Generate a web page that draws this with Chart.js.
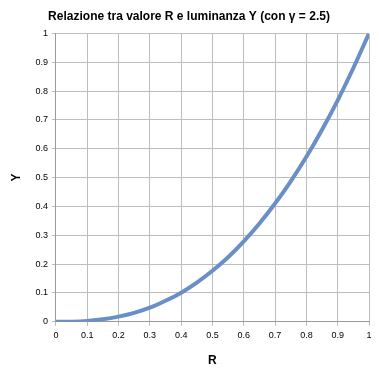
<!DOCTYPE html>
<html><head><meta charset="utf-8">
<script src="https://cdn.jsdelivr.net/npm/chart.js@4/dist/chart.umd.min.js"></script>
<style>html,body{margin:0;padding:0;background:#fff}#wrap{width:379px;height:372px}</style>
</head><body><div id="wrap"><canvas id="c" width="379" height="372"></canvas></div>
<script>
const chartTitle = "Relazione tra valore R e luminanza Y (con γ = 2.5)";
const xTitle = "R";
const yTitle = "Y";
const rValues = [0, 0.05, 0.1, 0.15, 0.2, 0.25, 0.3, 0.35, 0.4, 0.45, 0.5, 0.55, 0.6, 0.65, 0.7, 0.75, 0.8, 0.85, 0.9, 0.95, 1];
const yValues = [0, 0.0006, 0.0032, 0.0087, 0.018, 0.031, 0.049, 0.073, 0.101, 0.136, 0.177, 0.224, 0.279, 0.341, 0.41, 0.487, 0.572, 0.666, 0.768, 0.88, 1];

const pts = rValues.map((r, i) => ({x: r, y: yValues[i]}));
new Chart(document.getElementById('c'), {
  type: 'line',
  data: { datasets: [{ data: pts, borderColor: '#6a8fc6', borderWidth: 4, pointRadius: 0, tension: 0.4, cubicInterpolationMode: 'monotone', fill: false }] },
  options: {
    responsive: false, animation: false,
    layout: { padding: { left: 9, right: 10, top: 4, bottom: 4 } },
    plugins: {
      legend: { display: false }, tooltip: { enabled: false },
      title: { display: true, text: chartTitle, color: '#000', font: { family: 'Liberation Sans', size: 12, weight: 'bold' }, padding: { top: 5, bottom: 10 } }
    },
    scales: {
      x: { type: 'linear', min: 0, max: 1,
        ticks: { stepSize: 0.1, color: '#000', font: { family: 'Liberation Sans', size: 9 }, padding: 4, callback: v => String(Math.round(v*10)/10) },
        grid: { color: '#bdbdbd', tickLength: 4, lineWidth: 1 }, border: { color: '#9a9a9a' },
        title: { display: true, text: xTitle, color: '#000', font: { family: 'Liberation Sans', size: 12, weight: 'bold' }, padding: { top: 9, bottom: 0 } } },
      y: { min: 0, max: 1,
        ticks: { stepSize: 0.1, color: '#000', font: { family: 'Liberation Sans', size: 9 }, padding: 4, callback: v => String(Math.round(v*10)/10) },
        grid: { color: '#bdbdbd', tickLength: 4, lineWidth: 1 }, border: { color: '#9a9a9a' },
        title: { display: true, text: yTitle, color: '#000', font: { family: 'Liberation Sans', size: 12, weight: 'bold' }, padding: { top: 0, bottom: 8 } } }
    }
  }
});
</script></body></html>
